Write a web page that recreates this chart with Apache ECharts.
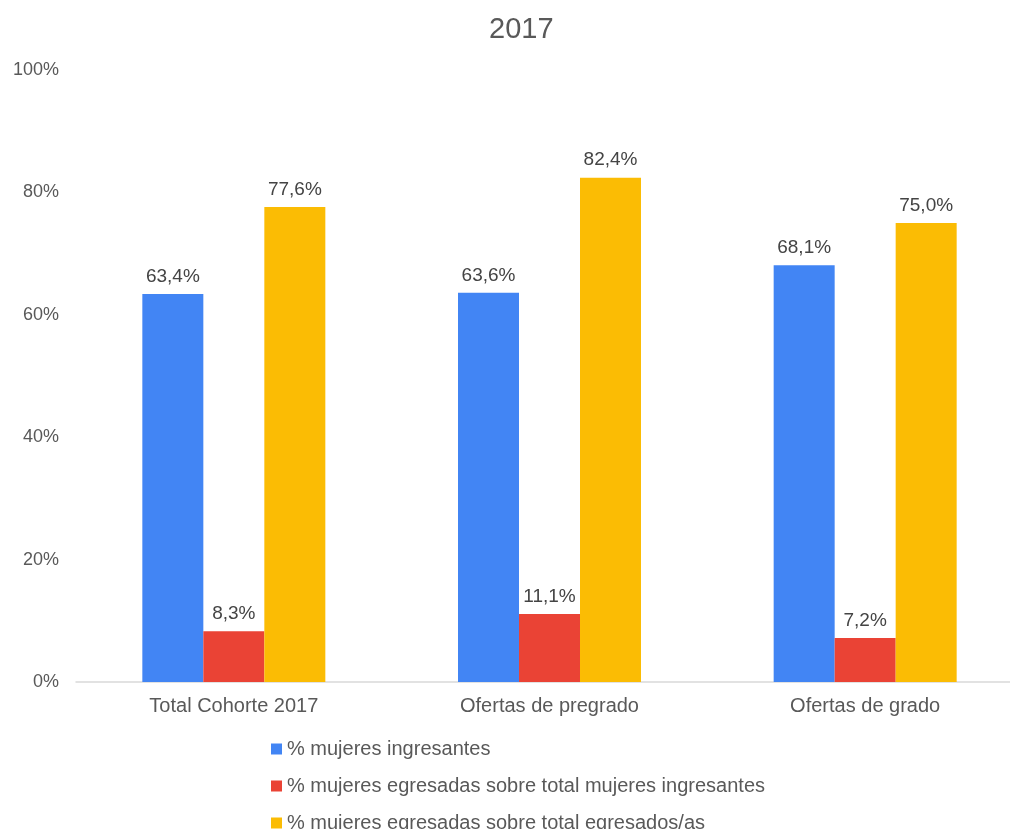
<!DOCTYPE html>
<html><head><meta charset="utf-8">
<script src="https://cdn.jsdelivr.net/npm/echarts@6/dist/echarts.min.js"></script>
<style>html,body{margin:0;padding:0;background:#fff;overflow:hidden;width:1010px;height:829px}#c{width:1023px;height:829px}</style>
</head><body><div id="c"></div>
<script>
const categories = ['Total Cohorte 2017', 'Ofertas de pregrado', 'Ofertas de grado'];
const ingresantes = [63.4, 63.6, 68.1];
const egresadasSobreIngresantes = [8.3, 11.1, 7.2];
const egresadasSobreEgresados = [77.6, 82.4, 75.0];
const seriesNames = ['% mujeres ingresantes', '% mujeres egresadas sobre total mujeres ingresantes', '% mujeres egresadas sobre total egresados/as'];
const colors = ['#4285F4', '#EA4335', '#FBBC04'];

const font = 'Arial, "Liberation Sans", sans-serif';
const chart = echarts.init(document.getElementById('c'));
const lbl = {show: true, position: 'top', distance: 8, color: '#444', fontSize: 19, fontFamily: font,
  formatter: p => p.value.toFixed(1).replace('.', ',') + '%'};
const mk = (name, data, i) => ({name, type: 'bar', data, barWidth: 61, barGap: '0%',
  itemStyle: {color: colors[i]}, label: lbl});
chart.setOption({
  animation: false,
  title: {text: '2017', left: 484, top: 10,
    textStyle: {fontSize: 29, fontWeight: 'normal', color: '#595959', fontFamily: font}},
  legend: {orient: 'vertical', left: 266, top: 734, height: 200, itemWidth: 11, itemHeight: 11, itemGap: 17,
    icon: 'rect', textStyle: {fontSize: 20, color: '#595959', fontFamily: font}},
  grid: {left: 76, right: 0, top: 70, bottom: 147, containLabel: false},
  xAxis: {type: 'category', data: categories,
    axisLine: {lineStyle: {color: '#d9d9d9', width: 1.5}}, axisTick: {show: false},
    axisLabel: {fontSize: 20, color: '#595959', fontFamily: font, margin: 14}},
  yAxis: {type: 'value', min: 0, max: 100, interval: 20,
    axisLine: {show: false}, axisTick: {show: false}, splitLine: {show: false},
    axisLabel: {formatter: '{value}%', fontSize: 18, color: '#595959', fontFamily: font, margin: 17}},
  series: [mk(seriesNames[0], ingresantes, 0), mk(seriesNames[1], egresadasSobreIngresantes, 1), mk(seriesNames[2], egresadasSobreEgresados, 2)]
});
</script></body></html>
